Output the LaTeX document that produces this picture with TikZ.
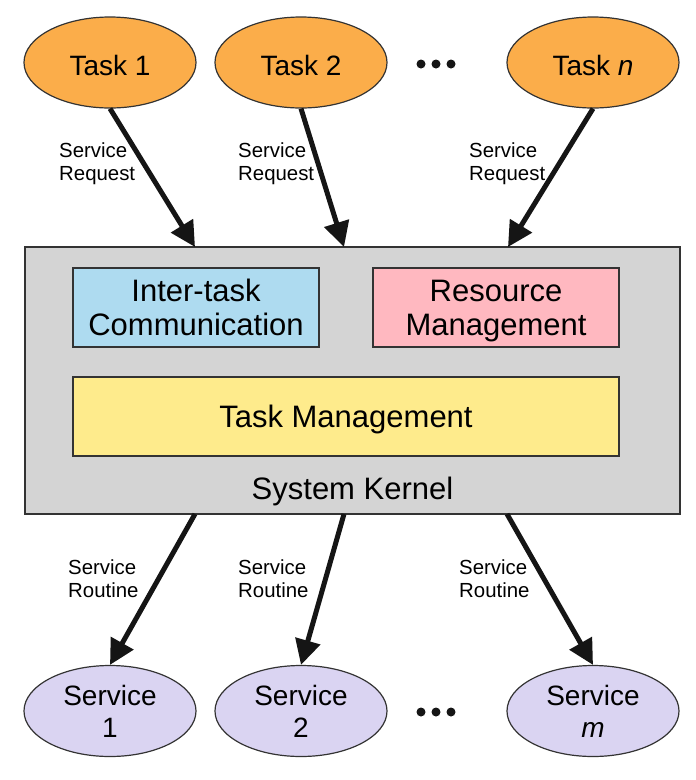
\documentclass[tikz,border=0pt]{standalone}
\usepackage{fontspec}
\setmainfont{Liberation Sans}
\usetikzlibrary{shapes.geometric,arrows.meta}
\definecolor{taskc}{HTML}{FBAD4A}
\definecolor{servc}{HTML}{DAD4F2}
\definecolor{kernc}{HTML}{D4D4D4}
\definecolor{bluec}{HTML}{AEDBF0}
\definecolor{pinkc}{HTML}{FFB8C0}
\definecolor{yellc}{HTML}{FEEB8C}
\definecolor{linec}{HTML}{333333}
\definecolor{arrc}{HTML}{151515}
\tikzset{
  ellbase/.style={ellipse, draw=linec, line width=1.2pt, minimum width=172pt, minimum height=91pt, inner sep=0pt, font=\fontsize{28}{32}\selectfont, align=center},
  taskell/.style={ellbase, fill=taskc, text height=25pt, text depth=0pt},
  servell/.style={ellbase, fill=servc, text depth=0pt},
  subbox/.style={rectangle, draw=linec, line width=1.2pt, inner sep=0pt, font=\fontsize{31}{34}\selectfont, align=center, text depth=0pt},
  lbl/.style={inner sep=0pt, anchor=base west, align=left, font=\fontsize{20.4}{23}\selectfont},
  bigarrow/.style={draw=arrc, line width=5pt, -{Triangle[length=25pt,width=25pt]}}
}
\begin{document}
\begin{tikzpicture}[x=1pt,y=-1pt]
\useasboundingbox (0,0) rectangle (696,780);
% kernel
\node[rectangle, draw=linec, line width=1.2pt, fill=kernc, minimum width=655pt, minimum height=267pt, inner sep=0pt] (kernel) at (352.5,380.5) {};
\node[subbox, fill=bluec, minimum width=246pt, minimum height=79pt] (ic) at (196,307.5) {Inter-task\\Communication};
\node[subbox, fill=pinkc, minimum width=246pt, minimum height=79pt] (rm) at (496,307.5) {Resource\\Management};
\node[subbox, fill=yellc, minimum width=546pt, minimum height=79pt] (tm) at (346,416.5) {Task Management};
\node[inner sep=0pt, anchor=base, font=\fontsize{31}{34}\selectfont] (sk) at (352.5,499) {System Kernel};
% tasks
\node[taskell] (t1) at (110,62.5) {Task 1};
\node[taskell] (t2) at (301,62.5) {Task 2};
\node[taskell] (tn) at (593,62.5) {Task \textit{n}};
% services
\node[servell] (s1) at (110,711) {Service\\1};
\node[servell] (s2) at (301,711) {Service\\2};
\node[servell] (sm) at (593,711) {Service\\\textit{m}};
% dots
\foreach \y in {64,712}{
  \foreach \x in {421,436,451}{
    \fill[arrc] (\x,\y) circle (4.5pt);
  }
}
% kernel attach points
\coordinate (k1) at (195,247);
\coordinate (k2) at (344,247);
\coordinate (k3) at (508,247);
\coordinate (b1) at (195,514);
\coordinate (b2) at (344,514);
\coordinate (b3) at (507,514);
% arrows
\draw[bigarrow] (t1.south) -- (k1);
\draw[bigarrow] (t2.south) -- (k2);
\draw[bigarrow] (tn.south) -- (k3);
\draw[bigarrow] (b1) -- (s1.north);
\draw[bigarrow] (b2) -- (s2.north);
\draw[bigarrow] (b3) -- (sm.north);
% labels
\node[lbl] (l1) at (59,180) {Service\\Request};
\node[lbl] (l2) at (238,180) {Service\\Request};
\node[lbl] (l3) at (469,180) {Service\\Request};
\node[lbl] (l4) at (68,597) {Service\\Routine};
\node[lbl] (l5) at (238,597) {Service\\Routine};
\node[lbl] (l6) at (459,597) {Service\\Routine};
\end{tikzpicture}
\end{document}
